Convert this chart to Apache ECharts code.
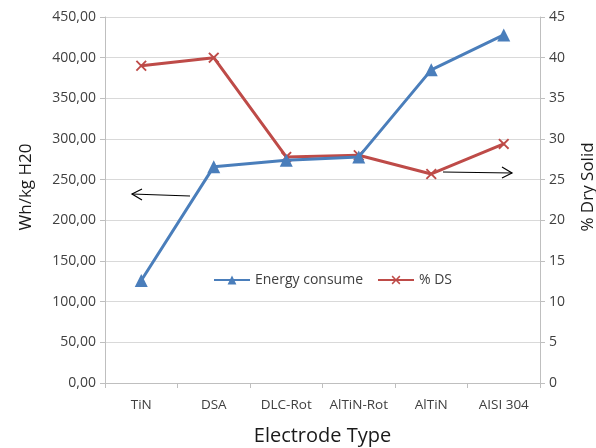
<!DOCTYPE html>
<html><head><meta charset="utf-8">
<script src="https://cdn.jsdelivr.net/npm/echarts@6/dist/echarts.min.js"></script>
<style>html,body{margin:0;padding:0;background:#fff}#c{width:596px;height:448px}</style>
</head><body><div id="c"></div>
<script>
const categories = ['TiN','DSA','DLC-Rot','AlTiN-Rot','AlTiN','AISI 304'];
const energyConsume = [126, 266, 274, 278, 385, 428];
const dryStrength = [39.0, 40.0, 27.8, 28.0, 25.7, 29.4];
const FONT = '"Open Sans", "Liberation Sans", sans-serif';
const crossPath = 'path://M0,1.2 L1.2,0 L5,3.8 L8.8,0 L10,1.2 L6.2,5 L10,8.8 L8.8,10 L5,6.2 L1.2,10 L0,8.8 L3.8,5 Z';
const chart = echarts.init(document.getElementById('c'));
chart.setOption({
  animation:false,
  textStyle:{fontFamily:FONT},
  grid:{left:105,right:56,top:17,bottom:65,outerBoundsMode:'none',containLabel:false},
  legend:{
    left:208, top:268, itemWidth:36, itemHeight:11, itemGap:14,
    textStyle:{fontFamily:FONT,fontSize:14,color:'#404040'},
    data:['Energy consume','% DS']
  },
  xAxis:{
    type:'category', data:categories, boundaryGap:true,
    axisLine:{lineStyle:{color:'#bfbfbf'}},
    axisTick:{show:true,alignWithLabel:false,length:5,lineStyle:{color:'#bfbfbf'}},
    axisLabel:{color:'#404040',fontSize:13.5,fontFamily:FONT,margin:15,interval:0,hideOverlap:false},
    name:'Electrode Type', nameLocation:'middle', nameGap:43,
    nameTextStyle:{fontSize:20,color:'#1a1a1a',fontFamily:FONT}
  },
  yAxis:[{
    type:'value', min:0, max:450, interval:50,
    axisLine:{show:true,lineStyle:{color:'#bfbfbf'}},
    axisTick:{show:true,length:5,lineStyle:{color:'#bfbfbf'}},
    splitLine:{lineStyle:{color:'#d9d9d9'}},
    axisLabel:{color:'#404040',fontSize:14,fontFamily:FONT,margin:9,
      formatter:v=>v.toFixed(2).replace('.',',')},
    name:'Wh/kg H20', nameLocation:'middle', nameGap:70,
    nameTextStyle:{fontSize:17,color:'#1a1a1a',fontFamily:FONT,padding:[0,0,0,26]}
  },{
    type:'value', min:0, max:45, interval:5, position:'right',
    axisLine:{show:true,lineStyle:{color:'#bfbfbf'}},
    axisTick:{show:true,length:5,lineStyle:{color:'#bfbfbf'}},
    splitLine:{show:false},
    axisLabel:{color:'#404040',fontSize:14,fontFamily:FONT,margin:9},
    name:'% Dry Solid', nameLocation:'middle', nameGap:40, nameRotate:90,
    nameTextStyle:{fontSize:17,color:'#1a1a1a',fontFamily:FONT,padding:[0,0,0,26]}
  }],
  series:[{
    name:'Energy consume', type:'line', yAxisIndex:0, data:energyConsume,
    symbol:'triangle', symbolSize:13, showSymbol:true,
    lineStyle:{color:'#4a7ebb',width:3},
    itemStyle:{color:'#4a7ebb'}, z:3
  },{
    name:'% DS', type:'line', yAxisIndex:1, data:dryStrength,
    symbol:crossPath, symbolSize:11, showSymbol:true,
    lineStyle:{color:'#be4b48',width:3},
    itemStyle:{color:'#be4b48'}, z:2
  }],
  graphic:[
    {type:'polyline',shape:{points:[[190,196],[132,194]]},style:{stroke:'#000',lineWidth:1.2,fill:null}},
    {type:'polyline',shape:{points:[[142,189],[132,194],[142,200]]},style:{stroke:'#000',lineWidth:1.2,fill:null}},
    {type:'polyline',shape:{points:[[443,172],[512,173]]},style:{stroke:'#000',lineWidth:1.2,fill:null}},
    {type:'polyline',shape:{points:[[502,167],[512,173],[502,178]]},style:{stroke:'#000',lineWidth:1.2,fill:null}}
  ]
});
</script></body></html>
